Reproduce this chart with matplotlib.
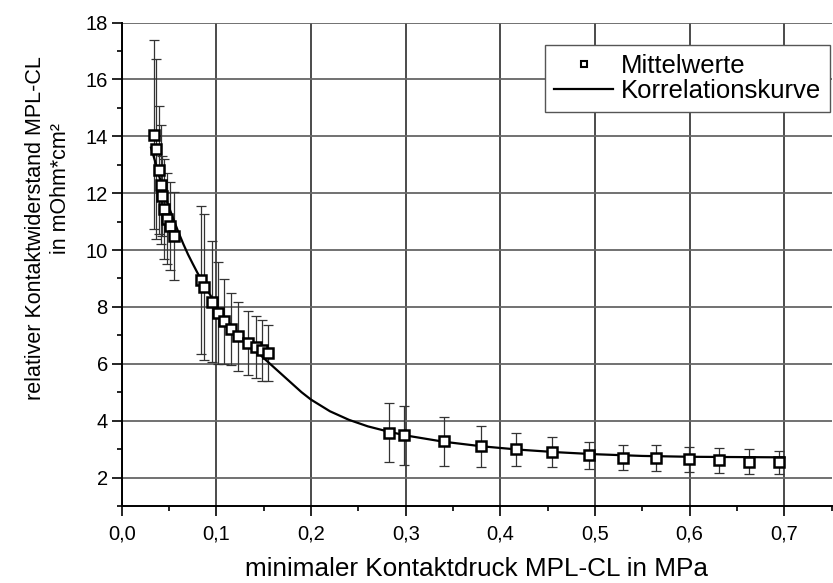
import matplotlib
matplotlib.use("Agg")
import matplotlib.pyplot as plt
from matplotlib.ticker import MultipleLocator, FuncFormatter

plt.rcParams['font.family'] = ['Liberation Sans', 'DejaVu Sans']

# mean values (three measurement groups) with standard deviation
x1 = [0.0341, 0.0365, 0.0392, 0.0410, 0.0425, 0.0450, 0.0480, 0.0505, 0.0550]
y1 = [14.05, 13.55, 12.80, 12.30, 11.90, 11.45, 11.10, 10.85, 10.50]
e1 = [3.32, 3.15, 2.25, 2.10, 1.40, 1.75, 1.60, 1.55, 1.55]

x2 = [0.0838, 0.0869, 0.0951, 0.1020, 0.1080, 0.1150, 0.1230, 0.1338, 0.1419, 0.1480, 0.1550]
y2 = [8.94, 8.70, 8.19, 7.79, 7.49, 7.22, 6.96, 6.73, 6.59, 6.47, 6.38]
e2 = [2.60, 2.57, 2.12, 1.79, 1.49, 1.28, 1.20, 1.12, 1.10, 1.07, 0.98]

x3 = [0.2824, 0.2986, 0.3405, 0.3793, 0.4162, 0.4549, 0.4937, 0.5292, 0.5645, 0.5990, 0.6313, 0.6627, 0.6940]
y3 = [3.58, 3.48, 3.27, 3.10, 2.99, 2.89, 2.78, 2.69, 2.69, 2.64, 2.61, 2.56, 2.54]
e3 = [1.05, 1.03, 0.86, 0.73, 0.59, 0.52, 0.48, 0.44, 0.45, 0.45, 0.44, 0.43, 0.41]

# correlation curve
xc = [0.031, 0.035, 0.040, 0.045, 0.050, 0.055, 0.060, 0.065, 0.070, 0.075, 0.080,
      0.090, 0.100, 0.110, 0.120, 0.135, 0.150, 0.170, 0.190, 0.200, 0.220, 0.240,
      0.260, 0.280, 0.300, 0.340, 0.380, 0.420, 0.460, 0.500, 0.550, 0.600, 0.650, 0.700]
yc = [13.6, 13.15, 12.55, 12.0, 11.5, 11.05, 10.62, 10.22, 9.85, 9.52, 9.2,
      8.62, 8.05, 7.58, 7.17, 6.68, 6.20, 5.60, 5.00, 4.74, 4.33, 4.03,
      3.80, 3.63, 3.48, 3.26, 3.10, 2.98, 2.89, 2.82, 2.76, 2.73, 2.72, 2.71]

xm = x1 + x2 + x3
ym = y1 + y2 + y3
em = e1 + e2 + e3

fig = plt.figure(figsize=(8.33, 5.83), dpi=100)
ax = fig.add_axes([0.1461, 0.1321, 0.8523, 0.8293])

ax.errorbar(xm, ym, yerr=em, fmt='none', ecolor='#333333', elinewidth=0.9,
            capsize=3.5, capthick=0.9, zorder=3)
curve, = ax.plot(xc, yc, color='black', lw=1.6, zorder=4, label='Korrelationskurve')
pts, = ax.plot(xm, ym, 's', ms=7, mfc='white', mec='black', mew=1.8, zorder=5,
               label='Mittelwerte')

ax.set_xlim(0, 0.75)
ax.set_ylim(1, 18)
ax.xaxis.set_major_locator(MultipleLocator(0.1))
ax.xaxis.set_minor_locator(MultipleLocator(0.05))
ax.yaxis.set_major_locator(MultipleLocator(2))
ax.yaxis.set_minor_locator(MultipleLocator(1))
ax.xaxis.set_major_formatter(FuncFormatter(lambda v, p: f'{v:.1f}'.replace('.', ',')))
ax.yaxis.set_major_formatter(FuncFormatter(lambda v, p: f'{v:.0f}'))

ax.tick_params(which='major', direction='out', length=7, width=1.2, labelsize=14.5, pad=6)
ax.tick_params(which='minor', direction='out', length=3.5, width=1.2)
ax.tick_params(axis='y', which='major', pad=3)

for s in ['top', 'right']:
    ax.spines[s].set_visible(False)
for s in ['left', 'bottom']:
    ax.spines[s].set_linewidth(1.4)

ax.xaxis.grid(True, color='#1a1a1a', lw=1.1)
ax.yaxis.grid(True, color='#666666', lw=1.3)
ax.set_axisbelow(True)
fig.canvas.draw()
ax.get_ygridlines()[-1].set_visible(False)
ax.get_xgridlines()[0].set_visible(False)

ax.set_xlabel('minimaler Kontaktdruck MPL-CL in MPa', fontsize=18.8, labelpad=10)
fig.text(36 / 833, 1 - 228 / 583, 'relativer Kontaktwiderstand MPL-CL', rotation=90,
         ha='center', va='center', fontsize=15.5)
fig.text(60 / 833, 1 - 189 / 583, 'in mOhm*cm²', rotation=90,
         ha='center', va='center', fontsize=15.5)

leg = ax.legend(handles=[pts, curve], loc='upper right',
                bbox_to_anchor=(830 / 833, 1 - 45 / 583), bbox_transform=fig.transFigure,
                fontsize=18.5, frameon=True, fancybox=False, framealpha=1,
                edgecolor='#555555', borderpad=0.35, labelspacing=0.05,
                handlelength=2.3, handletextpad=0.3, borderaxespad=0)
leg.get_frame().set_linewidth(1.0)
leg.legend_handles[0].set_markersize(5)
leg.legend_handles[0].set_markeredgewidth(1.5)
leg.set_zorder(10)

fig.savefig('out.png', dpi=100)
